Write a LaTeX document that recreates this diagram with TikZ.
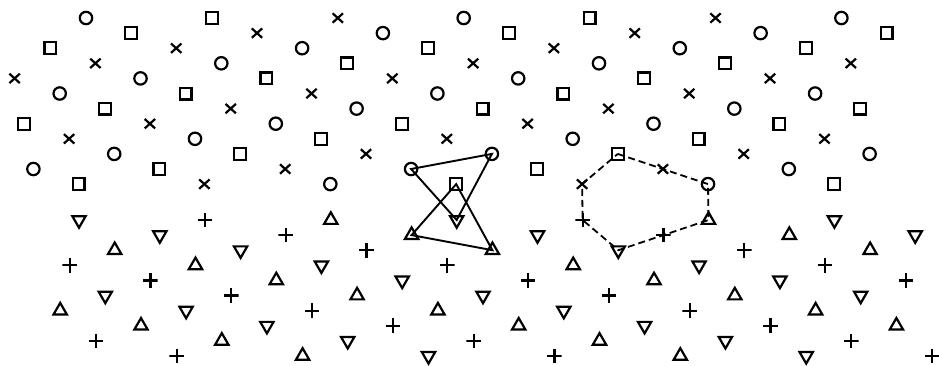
\documentclass[tikz,border=0pt]{standalone}
\usetikzlibrary{shapes.geometric, shapes.misc}

\begin{document}
\begin{tikzpicture}[
    x=1pt, y=-1pt,
    every node/.style={inner sep=0pt, outer sep=0pt, line width=2.2pt},
    circ/.style={circle, draw, minimum size=12.4pt},
    sqr/.style={rectangle, draw, minimum size=11.8pt},
    crs/.style={cross out, draw, minimum width=10.4pt, minimum height=9.4pt},
    upt/.style={regular polygon, regular polygon sides=3, draw, minimum size=15.4pt},
    dnt/.style={upt, shape border rotate=180},
    pls/.style={rectangle, minimum size=14.6pt, path picture={
        \draw[line width=2.2pt] (path picture bounding box.north) -- (path picture bounding box.south)
            (path picture bounding box.west) -- (path picture bounding box.east);}},
    solidloop/.style={line width=1.9pt},
    dashloop/.style={line width=1.8pt, dash pattern=on 7pt off 4pt}
]
    \useasboundingbox (0,0) rectangle (939,365);

    % upper grain: o, [], x
    \foreach \i in {0,...,11} {
        \pgfmathsetmacro\xs{mod(76+45.1*\i,125.9)+10}
        \pgfmathtruncatemacro\ks{round((\xs-86-45.1*\i)/125.9)}
        \foreach \n in {0,...,6} {
            \pgfmathtruncatemacro\tp{mod(\i+\ks+\n+30,3)}
            \pgfmathsetmacro\shp{{"circ","sqr","crs"}[\tp]}
            \node[\shp] (t-\i-\n) at ({\xs+125.9*\n}, {18+15.1*\i}) {};
        }
    }

    % lower grain: up, down, +
    \foreach \j in {0,...,9} {
        \pgfmathsetmacro\xs{mod(1283-45.1*\j,125.9)+55}
        \pgfmathtruncatemacro\ks{round((\xs-79+45.1*\j)/125.9)}
        \foreach \n in {0,...,6} {
            \pgfmathtruncatemacro\tp{mod(1-\j+\ks+\n+30,3)}
            \pgfmathsetmacro\shp{{"upt","dnt","pls"}[\tp]}
            \node[\shp] (b-\j-\n) at ({\xs+125.9*\n}, {220+15.1*\j}) {};
        }
    }

    \draw[solidloop] (t-10-3.center) -- (t-9-3.center) -- (b-0-3.center) -- cycle;
    \draw[solidloop] (t-11-3.center) -- (b-1-2.center) -- (b-2-3.center) -- cycle;
    \draw[dashloop] (t-9-4.center) -- (t-10-5.center) -- (t-11-5.center) -- (b-0-5.center)
        -- (b-1-4.center) -- (b-2-4.center) -- (b-0-4.center) -- (t-11-4.center) -- cycle;
\end{tikzpicture}
\end{document}
